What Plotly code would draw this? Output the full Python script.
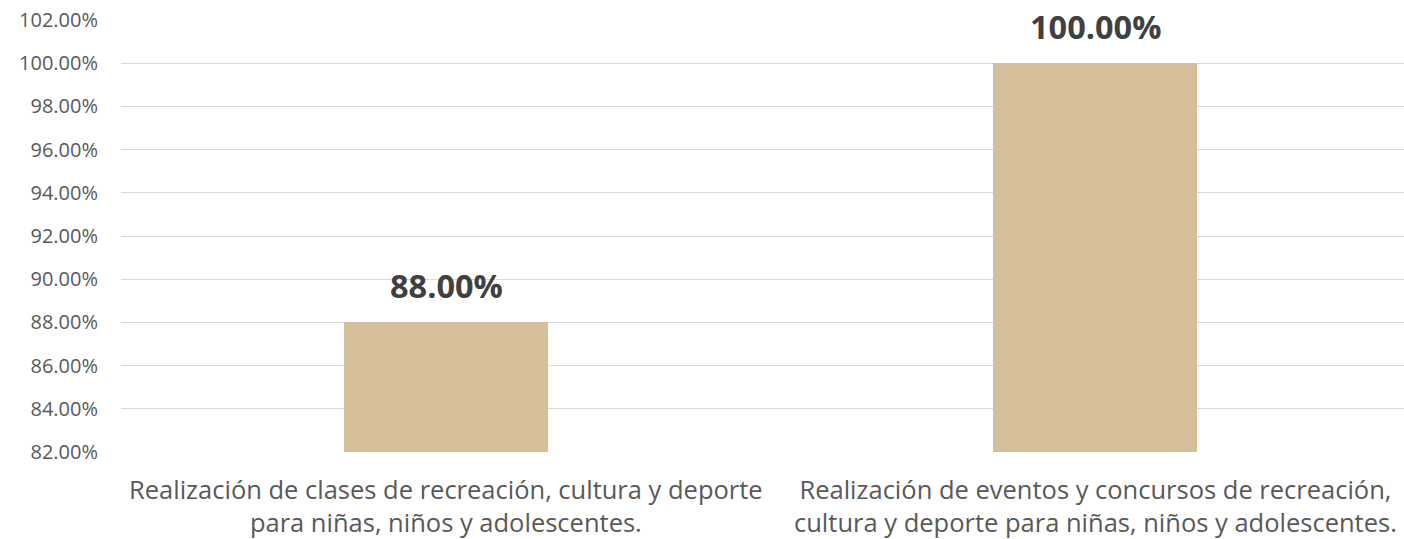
import plotly.graph_objects as go

categories = [
    "Realización de clases de recreación, cultura y deporte<br>para niñas, niños y adolescentes.",
    "Realización de eventos y concursos de recreación,<br>cultura y deporte para niñas, niños y adolescentes.",
]
values = [0.88, 1.00]
y_ticks = [0.82, 0.84, 0.86, 0.88, 0.90, 0.92, 0.94, 0.96, 0.98, 1.00, 1.02]
y_tick_labels = [f"{v * 100:.2f}%" for v in y_ticks]

BAR_COLOR = "#D4BF98"
FONT = "Open Sans"

x_pos = list(range(len(categories)))

fig = go.Figure()
fig.add_trace(go.Bar(
    x=x_pos,
    y=values,
    base=0,
    width=0.314,
    marker=dict(color=BAR_COLOR, line=dict(width=0)),
    hoverinfo="skip",
))

# value labels above each bar
for xi, v in zip(x_pos, values):
    fig.add_annotation(
        x=xi, y=v, xref="x", yref="y",
        text=f"<b>{v * 100:.2f}%</b>",
        showarrow=False, yanchor="bottom", yshift=12,
        font=dict(family=FONT, size=32.5, color="#404040"),
    )

# category labels under the axis
for xi, c in zip(x_pos, categories):
    fig.add_annotation(
        x=xi, y=0, xref="x", yref="paper",
        text=c, showarrow=False, yanchor="top", yshift=-18,
        font=dict(family=FONT, size=25.5, color="#595959"),
        align="center",
    )

fig.update_layout(
    width=1404, height=539,
    margin=dict(l=121, r=0, t=20, b=87),
    paper_bgcolor="white", plot_bgcolor="white",
    showlegend=False,
    bargap=0,
    xaxis=dict(
        range=[-0.5008, 1.476],
        showticklabels=False, showgrid=False, zeroline=False,
        showline=False, fixedrange=True,
    ),
    yaxis=dict(
        range=[0.82, 1.02],
        tickvals=y_ticks, ticktext=y_tick_labels,
        showgrid=True, gridcolor="#D9D9D9", gridwidth=1.3,
        zeroline=False, showline=False,
        tickfont=dict(family=FONT, size=20, color="#595959"),
        ticks="", ticklabelstandoff=22,
    ),
)

fig.write_html("out.html")
